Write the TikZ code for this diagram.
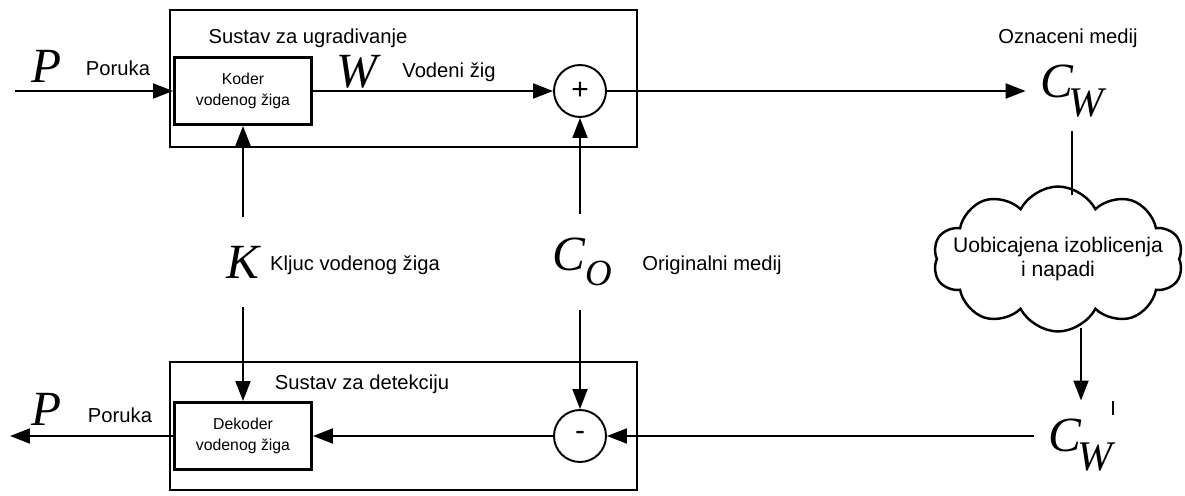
\documentclass[tikz,border=0pt]{standalone}
\usepackage{fontspec}
\setmainfont{Liberation Sans}
\newfontfamily\letterfont{Liberation Serif}
\usepackage{tikz}
\usetikzlibrary{arrows.meta, positioning, shapes.symbols}

\newcommand{\bigsym}[1]{{\fontsize{28}{30}\selectfont\letterfont\itshape #1}}

\begin{document}
\begin{tikzpicture}[x=0.02cm, y=-0.02cm,
  frame/.style={draw, line width=0.9pt, inner sep=0},
  coderbox/.style={draw, line width=1.7pt, minimum width=2.74cm, minimum height=1.34cm,
    align=center, font=\fontsize{9}{11.5}\selectfont},
  sumnode/.style={draw, circle, line width=1.1pt, minimum size=1.04cm, inner sep=0,
    font=\fontsize{17}{17}\selectfont},
  arr/.style={line width=1.1pt, -{Triangle[length=0.4cm, width=0.3cm]}},
  conn/.style={line width=1.1pt},
  sym/.style={inner sep=0},
  lbl/.style={inner sep=0, font=\fontsize{11.5}{13}\selectfont},
]
  \useasboundingbox (0,0) rectangle (1185,496);

  % Embedding system
  \node[frame, minimum width=9.34cm, minimum height=2.74cm] (embsys) at (403.5,78.5) {};
  \node[lbl] (embtitle) at (308,38) {Sustav za ugradivanje};
  \node[coderbox] (coder) at (243,91) {Koder\\vodenog žiga};
  \node[sumnode] (plus) at (580,91) {+};

  % Message in
  \coordinate (msgin) at (15,91);
  \node[sym] (pin) at (47,66) {\bigsym{P}};
  \node[lbl] (pinlbl) at (118,68) {Poruka};
  \draw[arr] (msgin) -- (coder);

  % Watermark
  \node[sym] (wmark) at (357,72) {\bigsym{W}};
  \node[lbl] (wmarklbl) at (449,72) {Vodeni žig};
  \draw[arr] (coder) -- (plus);

  % Marked medium
  \node[lbl] (markedlbl) at (1068,38) {Oznaceni medij};
  \node[sym, minimum height=1.6cm, inner xsep=8pt] (cw) at (1072,91)
    {\bigsym{C\kern-0.08em\raisebox{-0.38em}{\fontsize{24}{24}\selectfont W}}};
  \draw[arr] (plus) -- (cw);

  % Attacks
  \node[cloud, draw, line width=1.4pt, cloud puffs=10, cloud puff arc=125, aspect=1.75,
    minimum width=5cm, minimum height=2.9cm, inner sep=0,
    label={[align=center, font=\fontsize{12}{14}\selectfont]center:Uobicajena izoblicenja\\i napadi}]
    (attack) at (1058,259) {};
  \draw[conn] (cw.south) -- ([yshift=-0.2cm]cw.south |- attack.north);

  % Attacked medium
  \node[sym, minimum height=1.0cm, inner xsep=8pt] (cwatt) at (1081,436)
    {\bigsym{C\kern-0.08em\raisebox{-0.38em}{\fontsize{24}{24}\selectfont W}\raisebox{0.75em}{\rule{0.7pt}{8pt}}}};
  \draw[arr] ([yshift=0.1cm]attack.south -| cwatt) -- (cwatt);

  % Key
  \node[sym, minimum height=1.8cm] (key) at (243,262) {\bigsym{K}};
  \node[lbl] (keylbl) at (355,265) {Kljuc vodenog žiga};

  % Original medium
  \node[sym, minimum height=1.9cm] (orig) at (582,262)
    {\bigsym{C\raisebox{-0.3em}{\fontsize{21}{21}\selectfont O}}};
  \node[lbl] (origlbl) at (712,265) {Originalni medij};
  \draw[arr] (key) -- (coder);
  \draw[arr] (orig.north -| plus) -- (plus);

  % Detection system
  \node[frame, minimum width=9.34cm, minimum height=2.56cm] (detsys) at (403.5,426) {};
  \node[lbl] (dettitle) at (362,384) {Sustav za detekciju};
  \node[coderbox] (decoder) at (243,436) {Dekoder\\vodenog žiga};
  \node[sumnode] (minus) at (580,436) {-};
  \draw[arr] (key) -- (decoder);
  \draw[arr] (orig.south -| minus) -- (minus);
  \draw[arr] (cwatt) -- (minus);
  \draw[arr] (minus) -- (decoder);

  % Message out
  \coordinate (msgout) at (10,436);
  \node[sym] (pout) at (47,409) {\bigsym{P}};
  \node[lbl] (poutlbl) at (120,415) {Poruka};
  \draw[arr] (decoder) -- (msgout);
\end{tikzpicture}
\end{document}
